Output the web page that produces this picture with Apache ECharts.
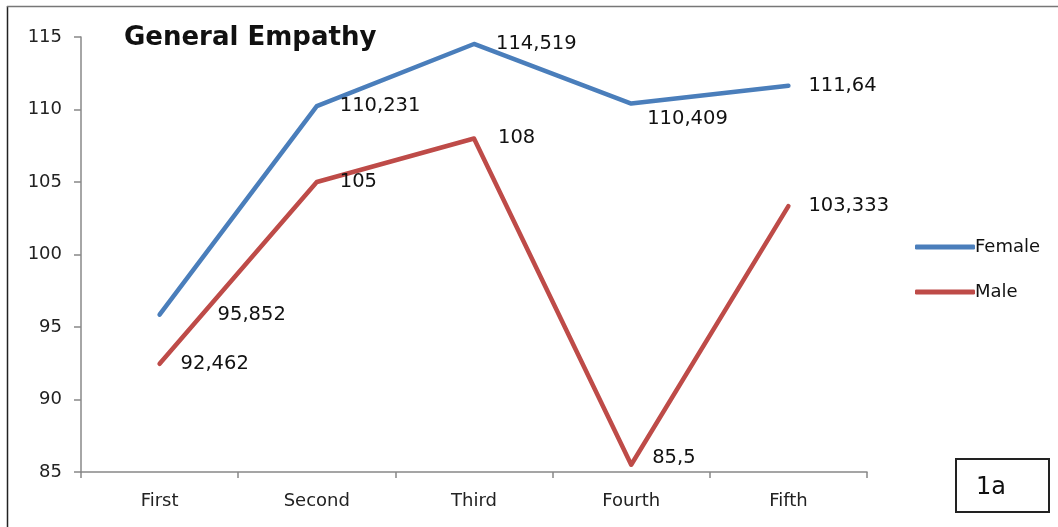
<!DOCTYPE html>
<html>
<head>
<meta charset="utf-8">
<script src="https://cdn.jsdelivr.net/npm/echarts@6/dist/echarts.min.js"></script>
<style>
  html, body { margin: 0; padding: 0; background: #fff; }
  #main { width: 1058px; height: 527px; }
</style>
</head>
<body>
<div id="main"></div>
<script>
// data
const categories = ['First', 'Second', 'Third', 'Fourth', 'Fifth'];
const female = [95.852, 110.231, 114.519, 110.409, 111.64];
const male = [92.462, 105, 108, 85.5, 103.333];
const yTicks = { min: 85, max: 115, step: 5 };

// label nudges (pixels), one per point
const femaleShift = [[38, 0], [3, 0], [2, 0], [-4, 15], [0, 0]];
const maleShift = [[1, 0], [3, 0], [4, -1], [1, -7], [0, 0]];

const font = 'DejaVu Sans';

function withLabels(values, shifts) {
    return values.map(function (v, i) {
        return {
            value: v,
            label: { offset: shifts[i] }
        };
    });
}

function commaLabel(p) {
    return String(p.value).replace('.', ',');
}

const chart = echarts.init(document.getElementById('main'), null, { renderer: 'canvas' });

const option = {
    animation: false,
    textStyle: { fontFamily: font },
    title: {
        text: 'General Empathy',
        left: 119,
        top: 20,
        textStyle: {
            fontFamily: font,
            fontWeight: 'bold',
            fontSize: 26,
            color: '#111'
        }
    },
    color: ['#4a7ebb', '#be4b48'],
    legend: {
        orient: 'vertical',
        left: 910,
        top: 233,
        itemWidth: 60,
        itemHeight: 5,
        itemGap: 27,
        icon: 'roundRect',
        textStyle: { fontFamily: font, fontSize: 18, color: '#111', padding: [0, 0, 0, -5] },
        data: ['Female', 'Male']
    },
    grid: {
        left: 81,
        right: 191,
        top: 37,
        bottom: 55
    },
    xAxis: {
        type: 'category',
        data: categories,
        boundaryGap: true,
        axisLine: { lineStyle: { color: '#888', width: 1.5 } },
        axisTick: { show: true, length: 6, lineStyle: { color: '#888', width: 1.5 } },
        axisLabel: { fontFamily: font, fontSize: 18, color: '#222', margin: 20 }
    },
    yAxis: {
        type: 'value',
        min: yTicks.min,
        max: yTicks.max,
        interval: yTicks.step,
        axisLine: { show: true, lineStyle: { color: '#888', width: 1.5 } },
        axisTick: { show: true, length: 7, lineStyle: { color: '#888', width: 1.5 } },
        splitLine: { show: false },
        axisLabel: { fontFamily: font, fontSize: 18, color: '#222', margin: 19 }
    },
    series: [{
        name: 'Female',
        type: 'line',
        data: withLabels(female, femaleShift),
        showSymbol: true,
        symbol: 'circle',
        symbolSize: 0,
        lineStyle: { width: 4.5, cap: 'round', join: 'round' },
        label: {
            show: true,
            position: 'right',
            distance: 20,
            fontFamily: font,
            fontSize: 19.5,
            color: '#111',
            formatter: commaLabel
        }
    }, {
        name: 'Male',
        type: 'line',
        data: withLabels(male, maleShift),
        showSymbol: true,
        symbol: 'circle',
        symbolSize: 0,
        lineStyle: { width: 4.5, cap: 'round', join: 'round' },
        label: {
            show: true,
            position: 'right',
            distance: 20,
            fontFamily: font,
            fontSize: 19.5,
            color: '#111',
            formatter: commaLabel
        }
    }],
    graphic: [{
        type: 'line',
        shape: { x1: 7.5, y1: 6, x2: 7.5, y2: 527 },
        style: { stroke: '#222', lineWidth: 1.5 }
    }, {
        type: 'line',
        shape: { x1: 7, y1: 6.5, x2: 1058, y2: 6.5 },
        style: { stroke: '#777', lineWidth: 1.5 }
    }, {
        type: 'rect',
        shape: { x: 956, y: 459, width: 93, height: 53 },
        style: { fill: '#fff', stroke: '#222', lineWidth: 2 }
    }, {
        type: 'text',
        left: 976,
        top: 476,
        style: { text: '1a', font: '24px "DejaVu Sans"', fill: '#111' }
    }]
};

chart.setOption(option);
</script>
</body>
</html>
